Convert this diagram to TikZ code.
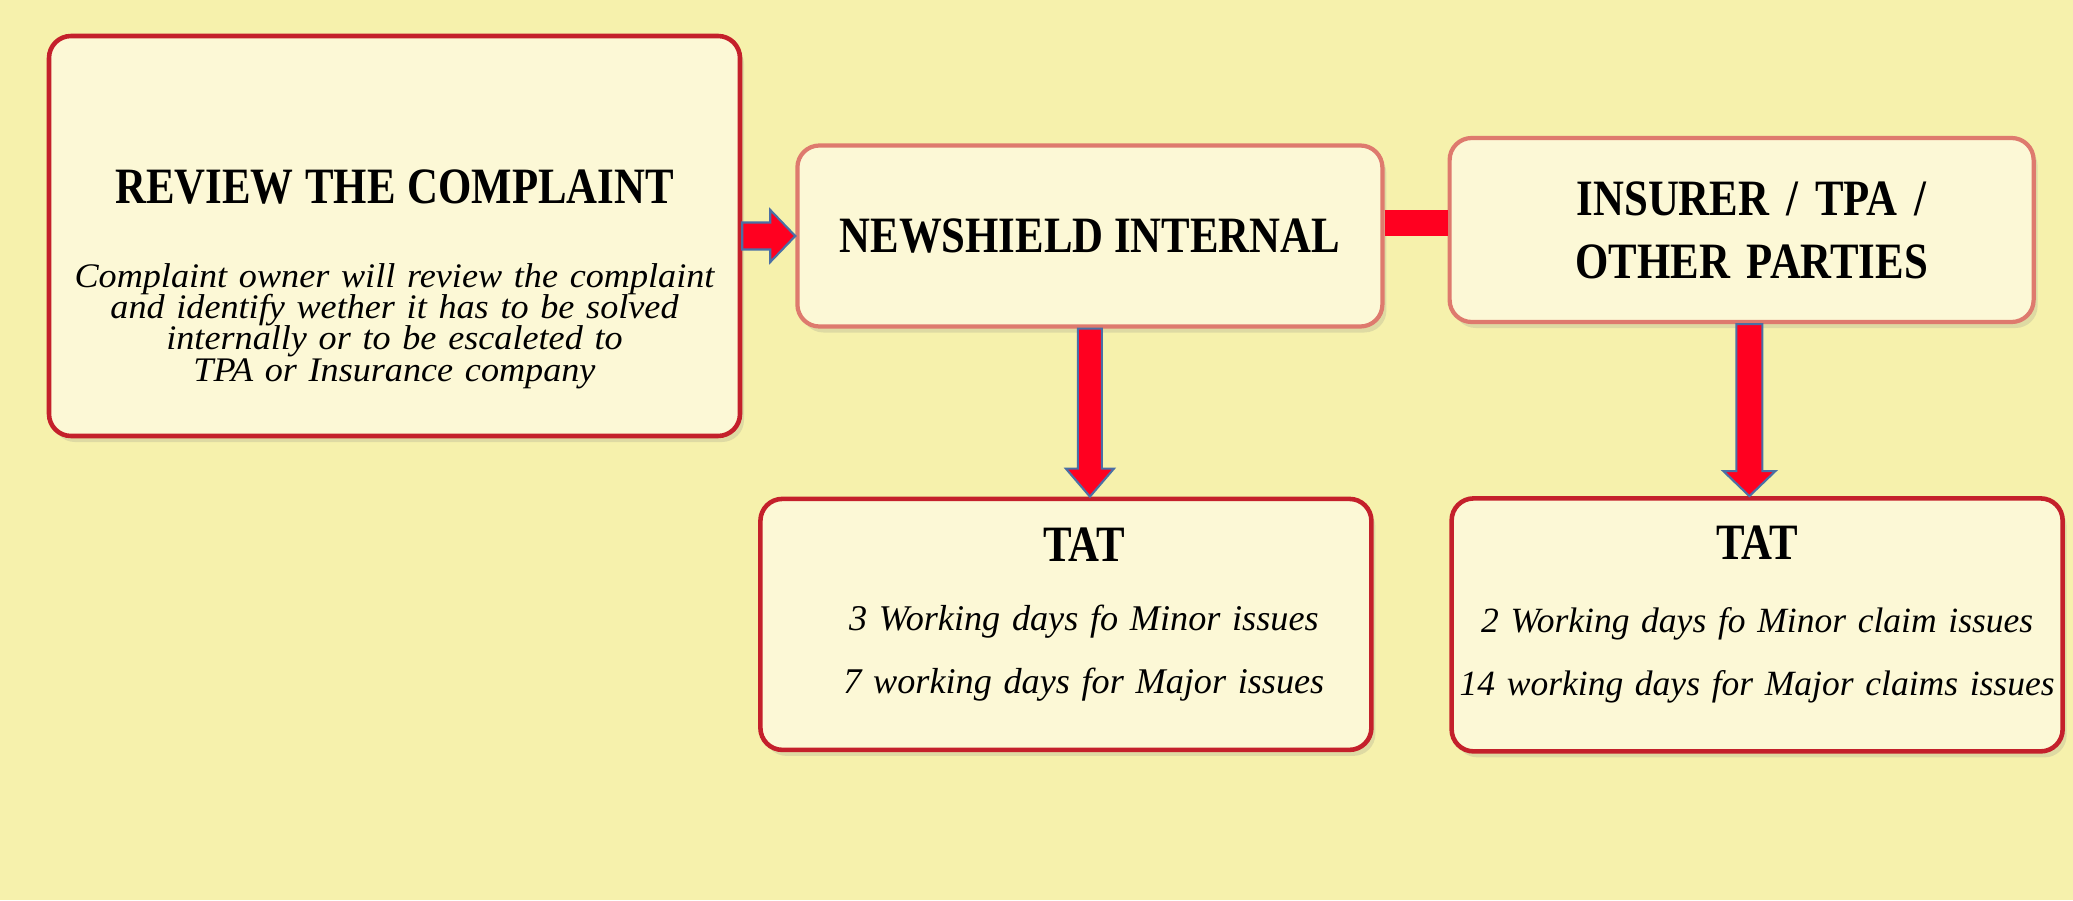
\documentclass[tikz,border=0pt]{standalone}
\usepackage{fontspec}
\setmainfont{Liberation Serif}
\newfontfamily\headfont{Liberation Serif}[FakeStretch=0.84]
\newfontfamily\bodyfont{Liberation Serif}[FakeStretch=1.05]
\usepackage{tikz}
\usetikzlibrary{positioning,calc,shadows}
\definecolor{bgyellow}{HTML}{F6F1AC}
\definecolor{boxfill}{HTML}{FCF8D6}
\definecolor{boxred}{HTML}{C4202B}
\definecolor{boxpink}{HTML}{DE7A6E}
\definecolor{arrowred}{HTML}{FF0020}
\definecolor{arrowblue}{HTML}{4A6FA5}
\tikzset{
  flowbox/.style={rectangle, rounded corners=2.2mm, draw=boxred, line width=1.3pt, fill=boxfill, inner sep=0pt,
                  drop shadow={shadow xshift=0.4mm, shadow yshift=-0.6mm, opacity=0.2}},
  softbox/.style={draw=boxpink, line width=1.2pt},
  headtext/.style={font=\headfont\bfseries\fontsize{14.5}{17.9}\selectfont},
  textblock/.style={align=center, inner sep=0pt},
  blockarrow/.style={fill=arrowred, draw=arrowblue, line width=0.6pt, line join=miter},
  joinbar/.style={draw=arrowred, line width=7.4pt},
}

\begin{document}
\begin{tikzpicture}
  \useasboundingbox (0,0) rectangle (20.73,9);
  \fill[bgyellow] (0,0) rectangle (20.73,9);

  \node[flowbox, minimum width=6.91cm, minimum height=4cm,
        label={[textblock, text width=6.8cm, yshift=-4.3mm]center:{%
          {\headfont\bfseries\fontsize{14.5}{17}\selectfont REVIEW THE COMPLAINT\endgraf}\vspace{5.3mm}%
          {\bodyfont\itshape\fontsize{9.8}{8.9}\selectfont\lineskiplimit=-10pt Complaint owner will review the complaint\\
           and identify wether it has to be solved\\ internally or to be escaleted to\\ TPA or Insurance company\endgraf}}}]
        (review) at (3.945,6.64) {};
  \node[flowbox, softbox, minimum width=5.85cm, minimum height=1.81cm,
        label={[textblock, headtext]center:NEWSHIELD INTERNAL}]
        (internal) [right=0.53cm of review] {};
  \node[flowbox, softbox, minimum width=5.84cm, minimum height=1.84cm,
        label={[textblock, headtext, text width=5.5cm, xshift=1mm]center:{INSURER / TPA /\\ OTHER PARTIES}}]
        (insurer) [right=0.63cm of internal, yshift=0.6mm] {};
  \node[flowbox, minimum width=6.11cm, minimum height=2.51cm,
        label={[textblock, text width=6cm, xshift=1.8mm, yshift=1mm]center:{%
          {\headfont\bfseries\fontsize{14.5}{17}\selectfont TAT\endgraf}\vspace{0.6mm}%
          {\itshape\fontsize{10.3}{17.9}\selectfont 3 Working days fo Minor issues\\ 7 working days for Major issues\endgraf}}}]
        (tat1) [below=1.68cm of internal, xshift=-2.4mm] {};
  \node[flowbox, minimum width=6.11cm, minimum height=2.53cm,
        label={[textblock, text width=6.6cm, yshift=1mm]center:{%
          {\headfont\bfseries\fontsize{14.5}{17}\selectfont TAT\endgraf}\vspace{1mm}%
          {\itshape\fontsize{10.1}{17.9}\selectfont 2 Working days fo Minor claim issues\\ 14 working days for Major claims issues\endgraf}}}]
        (tat2) [below=1.72cm of insurer, xshift=1.55mm] {};

  % block arrows
  \draw[blockarrow] ([yshift=1.35mm]review.east) -- ([xshift=-2.5mm,yshift=1.35mm]internal.west)
    -- ([xshift=-2.5mm,yshift=2.6mm]internal.west) -- (internal.west)
    -- ([xshift=-2.5mm,yshift=-2.6mm]internal.west) -- ([xshift=-2.5mm,yshift=-1.35mm]internal.west)
    -- ([yshift=-1.35mm]review.east) -- cycle;

  \coordinate (t1) at (internal.south |- tat1.north);
  \draw[blockarrow] ([xshift=-1.2mm]internal.south) -- ([xshift=-1.2mm,yshift=2.8mm]t1)
    -- ([xshift=-2.4mm,yshift=2.8mm]t1) -- (t1) -- ([xshift=2.4mm,yshift=2.8mm]t1)
    -- ([xshift=1.2mm,yshift=2.8mm]t1) -- ([xshift=1.2mm]internal.south) -- cycle;

  \coordinate (m2) at ($(insurer.south)!0.5!(tat2.north)$);
  \coordinate (s2) at (m2 |- insurer.south);
  \coordinate (t2) at (m2 |- tat2.north);
  \draw[blockarrow] ([xshift=-1.3mm]s2) -- ([xshift=-1.3mm,yshift=2.5mm]t2)
    -- ([xshift=-2.6mm,yshift=2.5mm]t2) -- (t2) -- ([xshift=2.6mm,yshift=2.5mm]t2)
    -- ([xshift=1.3mm,yshift=2.5mm]t2) -- ([xshift=1.3mm]s2) -- cycle;

  % bar between internal and insurer
  \coordinate (l1) at ([yshift=1.3mm]internal.east);
  \draw[joinbar] (l1) -- (l1 -| insurer.west);
\end{tikzpicture}
\end{document}
